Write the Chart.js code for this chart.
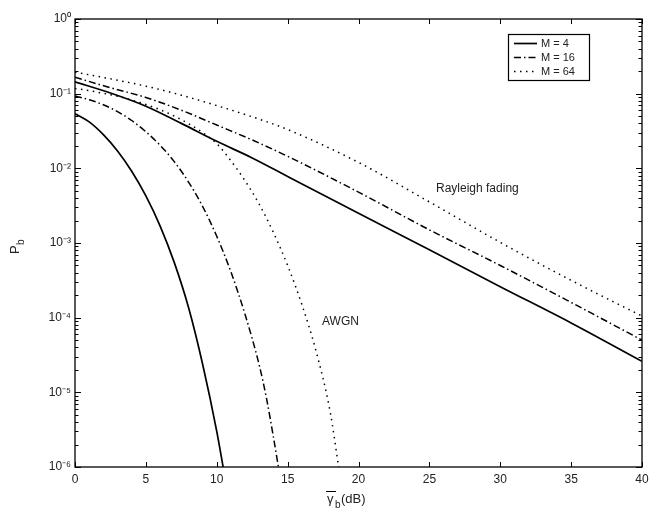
<!DOCTYPE html>
<html>
<head>
<meta charset="utf-8">
<script src="https://cdn.jsdelivr.net/npm/chart.js@4.4.1/dist/chart.umd.min.js"></script>
<style>
  html, body { margin: 0; padding: 0; background: #fff; }
  #wrap { width: 649px; height: 519px; }
</style>
</head>
<body>
<div id="wrap"><canvas id="c" width="649" height="519"></canvas></div>
<script>
// values (gamma_b in dB, Pb)
const gammaAwgn4 = [0, 1, 2, 3, 4, 5, 6, 7, 8, 9, 10, 10.45];
const pbAwgn4 = [0.054, 0.0419, 0.0283, 0.0171, 0.00916, 0.00428, 0.0017, 0.00055, 0.000139, 2.4e-5, 3.0e-6, 1e-6];

const gammaAwgn16 = [0, 1, 2, 3, 4, 5, 6, 7, 8, 9, 10, 11, 12, 13, 13.5, 14, 14.35];
const pbAwgn16 = [0.093, 0.083, 0.071, 0.0575, 0.0437, 0.0309, 0.0204, 0.0123, 0.0066, 0.0031, 0.00123, 0.00041, 0.00011, 2.3e-5, 8.5e-6, 2.5e-6, 1e-6];

const gammaAwgn64 = [0, 1, 2, 3, 4, 5, 6, 7, 8, 9, 10, 11, 12, 13, 14, 15, 16, 17, 18, 18.6];
const pbAwgn64 = [0.1175, 0.11, 0.101, 0.0923, 0.0822, 0.0716, 0.061, 0.0501, 0.0398, 0.0302, 0.0214, 0.0126, 0.0068, 0.0033, 0.00138, 0.0005, 0.000151, 3.6e-5, 5.5e-6, 1e-6];

const gammaRay = [0, 2.5, 5, 7.5, 10, 12.5, 15, 20, 25, 30, 35, 40];
const pbRay4 = [0.144, 0.102, 0.068, 0.040, 0.023, 0.0138, 0.0078, 0.0025, 0.00081, 0.00026, 8.5e-5, 2.6e-5];
const pbRay16 = [0.166, 0.12, 0.089, 0.06, 0.038, 0.024, 0.0145, 0.0048, 0.0015, 0.0005, 0.00016, 5e-5];
const pbRay64 = [0.194, 0.158, 0.126, 0.0955, 0.0692, 0.049, 0.0331, 0.012, 0.00355, 0.00102, 0.000316, 0.000105];

const legendLabels = ['M = 4', 'M = 16', 'M = 64'];
const xTicks = [0, 5, 10, 15, 20, 25, 30, 35, 40];
const yTicks = [1, 1e-1, 1e-2, 1e-3, 1e-4, 1e-5, 1e-6];

const styles = [
  { dash: [], width: 1.7 },
  { dash: [7, 3, 1.5, 3], width: 1.5 },
  { dash: [1.5, 4.5], width: 1.5 }
];

const sup = { '0': '\u2070', '1': '\u00b9', '2': '\u00b2', '3': '\u00b3', '4': '\u2074',
  '5': '\u2075', '6': '\u2076', '-': '\u207b' };
function supStr(n) {
  return String(n).split('').map(ch => sup[ch]).join('');
}

function pts(xs, ys) {
  return xs.map((x, i) => ({ x: x, y: ys[i] }));
}

function ds(xs, ys, k) {
  return {
    data: pts(xs, ys),
    borderColor: '#000',
    borderWidth: styles[k].width,
    borderDash: styles[k].dash,
    pointRadius: 0,
    fill: false,
    cubicInterpolationMode: 'monotone'
  };
}

const FONT = '"Liberation Sans", Arial, Helvetica, sans-serif';

const decor = {
  id: 'decor',
  afterDatasetsDraw(chart) {
    const ctx = chart.ctx;
    const a = chart.chartArea;
    const xs = chart.scales.x, ys = chart.scales.y;
    ctx.save();
    ctx.strokeStyle = '#000';
    ctx.setLineDash([]);
    ctx.lineWidth = 1.3;
    ctx.strokeRect(a.left, a.top, a.right - a.left, a.bottom - a.top);

    ctx.lineWidth = 1;
    ctx.beginPath();
    xTicks.forEach(v => {
      const px = Math.round(xs.getPixelForValue(v)) + 0.5;
      ctx.moveTo(px, a.bottom); ctx.lineTo(px, a.bottom - 5);
      ctx.moveTo(px, a.top); ctx.lineTo(px, a.top + 5);
    });
    for (let e = -6; e <= 0; e++) {
      for (let m = 1; m <= 9; m++) {
        const v = m * Math.pow(10, e);
        if (v > 1.0001) break;
        const py = Math.round(ys.getPixelForValue(v)) + 0.5;
        const len = m === 1 ? 6 : 3.5;
        ctx.moveTo(a.left, py); ctx.lineTo(a.left + len, py);
        ctx.moveTo(a.right, py); ctx.lineTo(a.right - len, py);
      }
    }
    ctx.stroke();

    // legend
    ctx.lineWidth = 1.2;
    ctx.strokeRect(508.5, 34.5, 81, 46);
    ctx.font = '11px ' + FONT;
    ctx.fillStyle = '#222';
    ctx.textBaseline = 'middle';
    const rows = [43.5, 57.5, 71.5];
    legendLabels.forEach((lab, k) => {
      ctx.setLineDash(styles[k].dash);
      ctx.lineWidth = styles[k].width;
      ctx.beginPath();
      ctx.moveTo(514, rows[k]); ctx.lineTo(537, rows[k]);
      ctx.stroke();
      ctx.fillText(lab, 541, rows[k] + 0.5);
    });
    ctx.setLineDash([]);

    // curve annotations
    ctx.font = '12px ' + FONT;
    ctx.fillText('Rayleigh fading', 436, 189);
    ctx.fillText('AWGN', 322, 322);

    // x axis title
    ctx.font = '13px ' + FONT;
    ctx.textBaseline = 'alphabetic';
    ctx.fillText('\u03b3', 327, 503);
    ctx.lineWidth = 1;
    ctx.beginPath();
    ctx.moveTo(326, 491.5); ctx.lineTo(336, 491.5);
    ctx.stroke();
    ctx.font = '10px ' + FONT;
    ctx.fillText('b', 335, 508);
    ctx.font = '13px ' + FONT;
    ctx.fillText('(dB)', 341, 503);

    // y axis title
    ctx.translate(19, 254);
    ctx.rotate(-Math.PI / 2);
    ctx.font = '13px ' + FONT;
    ctx.fillText('P', 0, 0);
    ctx.font = '10px ' + FONT;
    ctx.fillText('b', 9, 5);
    ctx.restore();
  }
};

new Chart(document.getElementById('c'), {
  type: 'line',
  data: {
    datasets: [
      ds(gammaAwgn4, pbAwgn4, 0),
      ds(gammaAwgn16, pbAwgn16, 1),
      ds(gammaAwgn64, pbAwgn64, 2),
      ds(gammaRay, pbRay4, 0),
      ds(gammaRay, pbRay16, 1),
      ds(gammaRay, pbRay64, 2)
    ]
  },
  options: {
    responsive: false,
    animation: false,
    layout: { padding: { top: 19, right: 7, left: 0, bottom: 0 } },
    plugins: { legend: { display: false }, tooltip: { enabled: false } },
    scales: {
      x: {
        type: 'linear', min: 0, max: 40,
        grid: { display: false, drawTicks: false },
        border: { display: false },
        afterBuildTicks: s => { s.ticks = xTicks.map(v => ({ value: v })); },
        afterFit: s => { s.height = 52; s.paddingLeft = 0; s.paddingRight = 0; },
        ticks: { padding: 5, color: '#222', font: { family: FONT, size: 12 }, maxRotation: 0 }
      },
      y: {
        type: 'logarithmic', min: 1e-6, max: 1,
        grid: { display: false, drawTicks: false },
        border: { display: false },
        afterBuildTicks: s => { s.ticks = yTicks.map(v => ({ value: v })); },
        afterFit: s => { s.width = 75; s.paddingTop = 0; s.paddingBottom = 0; },
        ticks: {
          padding: 4, color: '#222', font: { family: FONT, size: 12 },
          callback: v => '10' + supStr(Math.round(Math.log10(v)))
        }
      }
    }
  },
  plugins: [decor]
});
</script>
</body>
</html>
